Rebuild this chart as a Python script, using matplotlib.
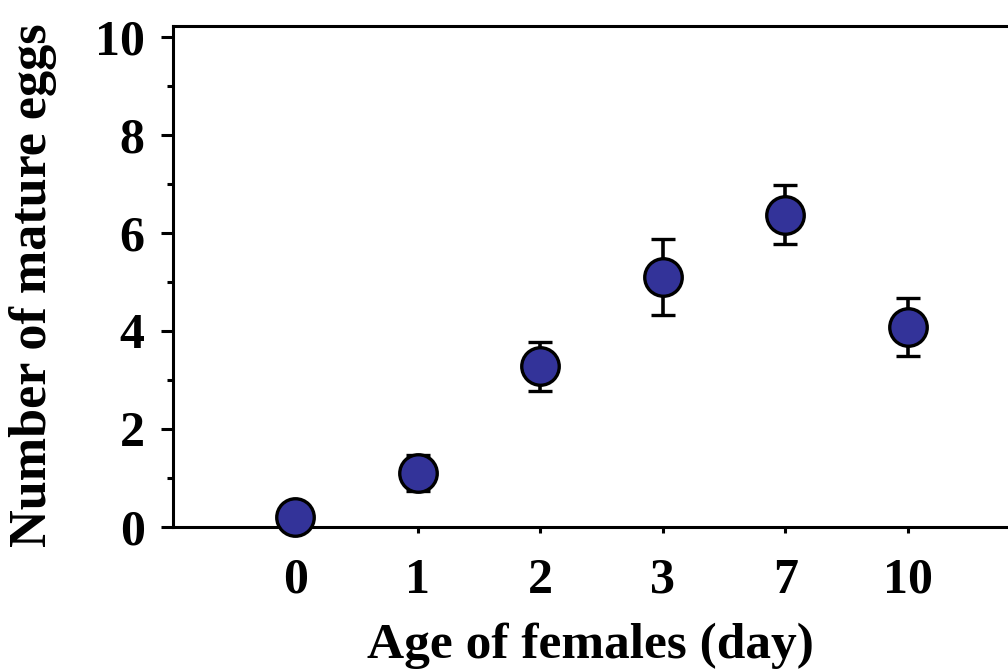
import numpy as np
import matplotlib
matplotlib.use("Agg")
import matplotlib.pyplot as plt
from matplotlib.ticker import MultipleLocator

AGES = ['0', '1', '2', '3', '7', '10']
EGGS = [0.2, 1.1, 3.28, 5.1, 6.37, 4.08]
ERR = [0.1, 0.37, 0.5, 0.77, 0.6, 0.6]

plt.rcParams['font.family'] = ['Liberation Serif', 'DejaVu Serif']
plt.rcParams['font.weight'] = 'bold'

fig = plt.figure(figsize=(10.08, 6.69), dpi=100)
W, H = 1008.0, 669.0
ax = fig.add_axes([173 / W, (H - 527) / H, (1030 - 173) / W, (527 - 26) / H])

x = np.arange(len(AGES))
ax.errorbar(x, EGGS, yerr=ERR, fmt='o', color='black', ecolor='black',
            elinewidth=2.6, capsize=8.5, capthick=2.8,
            markersize=27, markerfacecolor='#333399',
            markeredgecolor='black', markeredgewidth=2.4, clip_on=False,
            zorder=3)

ax.set_xlim(-1, 6)
ax.set_ylim(0, 10.22)
ax.set_xticks(x)
ax.set_xticklabels(AGES)
ax.set_yticks([0, 2, 4, 6, 8, 10])
ax.yaxis.set_minor_locator(MultipleLocator(1))

for s in ax.spines.values():
    s.set_linewidth(2.2)

ax.tick_params(axis='y', which='major', length=8.5, width=2.2, pad=12,
               labelsize=36)
ax.tick_params(axis='y', which='minor', length=4, width=2.2)
ax.tick_params(axis='x', which='major', length=4, width=2.2, pad=18,
               labelsize=36)

ax.set_xlabel('Age of females (day)', fontsize=37, fontweight='bold')
ax.set_ylabel('Number of mature eggs', fontsize=37.5, fontweight='bold')
# label positions in axes coords
ax.xaxis.set_label_coords(0.487, -0.19)
ax.yaxis.set_label_coords(-0.135, 0.483)

fig.savefig('out.png', dpi=100)
